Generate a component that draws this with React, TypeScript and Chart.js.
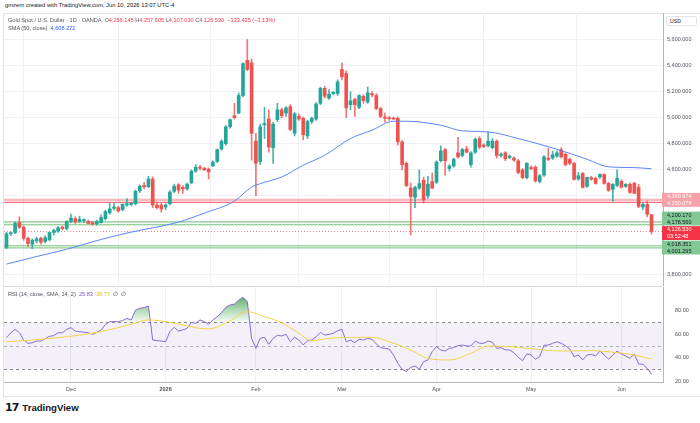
import React, { useEffect, useRef } from "react";
import { Chart, registerables } from "chart.js";
Chart.register(...registerables);

document.body.style.margin = "0";

const FONT = "'Liberation Sans', Arial, sans-serif";
const UP = "#26a69a";
const DOWN = "#ef5350";

// ---- candles (daily, Nov 10 2025 .. Jun 10 2026) ----
const opens = [
  4005,4110,4120,4195,4160,4075,4030,4055,4075,4050, 4065,4120,4130,4160,4150,4205,4225,4205,4210,4205,
  4195,4185,4195,4225,4270,4305,4310,4295,4330,4335, 4340,4440,4480,4470,4530,4330,4330,4315,4340,4435,
  4485,4465,4455,4500,4590,4620,4612,4605,4630,4665, 4760,4800,4930,5015,5035,5170,5440,5420,4820,4665,
  4945,4990,4770,4985,5060,5035,5085,4880,5010,4995, 4860,4970,4990,5110,5225,5150,5185,5185,5370,5340,
  5100,5140,5080,5165,5120,5185,5170,5070,5005,4998, 4995,4995,4815,4650,4460,4390,4460,4520,4400,4510,
  4505,4670,4755,4610,4630,4730,4710,4760,4640,4735, 4840,4790,4785,4770,4820,4710,4730,4695,4690,4670,
  4600,4540,4615,4620,4510,4560,4690,4690,4705,4755, 4720,4680,4650,4530,4573,4473,4540,4535,4545,4565,
  4496,4450,4481,4512,4473,4489,4496,4466,4315,4335, 4256.145,
];
const highs = [
  4120,4125,4200,4240,4170,4085,4070,4085,4085,4095, 4125,4145,4165,4170,4210,4260,4240,4245,4225,4215,
  4205,4215,4255,4290,4345,4345,4320,4340,4380,4350, 4445,4485,4505,4550,4545,4350,4345,4340,4440,4490,
  4495,4480,4500,4600,4640,4635,4620,4615,4670,4760, 4830,4940,4990,5110,5190,5420,5600,5450,4880,4950,
  5080,5060,4965,5110,5075,5085,5100,5040,5030,5005, 4980,5005,5115,5235,5240,5215,5200,5290,5420,5360,
  5200,5150,5175,5175,5235,5200,5185,5080,5035,5010, 5005,5005,4825,4660,4500,4475,4600,4545,4550,4575,
  4670,4785,4765,4640,4690,4850,4765,4780,4740,4845, 4855,4800,4890,4840,4830,4730,4740,4715,4700,4680,
  4610,4655,4630,4630,4565,4710,4765,4745,4745,4770, 4730,4690,4655,4580,4580,4545,4550,4545,4570,4570,
  4505,4495,4600,4525,4495,4500,4505,4490,4345,4360, 4257.605,
];
const lows = [
  3995,4095,4110,4150,4060,4010,3995,4040,4030,4040, 4055,4100,4120,4140,4140,4195,4190,4195,4195,4185,
  4175,4175,4190,4215,4260,4290,4275,4285,4320,4325, 4330,4425,4455,4465,4310,4300,4275,4295,4330,4425,
  4420,4420,4445,4495,4580,4600,4595,4530,4625,4655, 4750,4790,4920,4990,5030,5160,5360,4675,4400,4640,
  4840,4735,4650,4970,5000,5010,4900,4860,4980,4830, 4840,4955,4980,5100,5150,5140,5175,5170,5290,5000,
  5060,5010,5070,5110,5110,5160,5060,5000,4965,4980, 4985,4790,4600,4470,4100,4310,4450,4345,4380,4455,
  4495,4660,4560,4590,4620,4690,4700,4730,4620,4725, 4760,4770,4775,4760,4690,4700,4670,4685,4665,4570,
  4530,4530,4600,4505,4500,4550,4670,4680,4695,4690, 4630,4640,4520,4520,4460,4465,4520,4490,4535,4490,
  4435,4358,4470,4460,4465,4420,4415,4310,4295,4240, 4107.03,
];
const closes = [
  4110,4115,4190,4160,4075,4035,4060,4070,4045,4080, 4120,4135,4155,4150,4205,4230,4200,4220,4213,4190,
  4185,4205,4235,4280,4300,4315,4285,4335,4340,4345, 4435,4475,4470,4530,4330,4310,4300,4330,4430,4475,
  4445,4455,4490,4590,4620,4612,4600,4585,4660,4755, 4820,4930,4985,5000,5170,5415,5370,4880,4650,4930,
  4955,4775,4950,5060,5015,5075,4910,5030,4990,4870, 4970,4995,5105,5225,5165,5180,5195,5275,5315,5075,
  5130,5100,5170,5130,5190,5175,5070,5010,4995,4992, 4990,4815,4640,4480,4395,4465,4495,4370,4490,4460,
  4660,4745,4670,4630,4680,4700,4755,4735,4730,4835, 4775,4780,4820,4820,4710,4720,4685,4705,4675,4580,
  4540,4650,4610,4515,4555,4700,4680,4715,4730,4700, 4640,4650,4527,4555,4466,4543,4528,4496,4565,4496,
  4443,4489,4535,4466,4489,4427,4420,4320,4335,4259.965, 4126.53,
];

// ---- SMA(50) at candle indices ----
const smaIdx = [0,6,14,22,29,40,46,53,57,59,64,69,74,80,85,90,93,101,106,112,119,128,135,140,146,150];
const smaVal = [3877,3927,3991,4066,4122,4199,4268,4360,4468,4494,4545,4635,4712,4840,4904,4973,4973,4942,4899,4891,4840,4758,4681,4623,4617,4608.272];

// ---- RSI(14) per candle ----
const rsiVal = [
  57,61,64,61,55,52,52.5,54,54,56, 58,58.6,61,61,64,65.4,62.5,62,61.5,61,
  59.7,61.5,63.4,68,70.5,70.5,70.5,71.5,73.3,71.9, 80.4,81.9,82.5,83.8,54.9,54.3,54,53.4,62,65.7,
  62.5,63.5,64.8,70,69,72,70.5,68.3,72,74.7, 78,82.7,84.7,85.5,88.9,91.2,87.5,56.3,47.8,56.3,
  57.2,51.2,56.3,58.9,58.3,59.7,53.4,57.2,54.9,50.6, 54.3,54.9,57.7,61.4,59.1,59.7,60.6,62.8,64,53.4,
  54.9,52.6,55.5,54.9,56.3,55.5,51.5,48.4,47.8,47.2, 42.1,35.1,30,27.9,31.7,32.8,30,36.5,37.9,45,
  49.2,46.4,45.5,47.8,48.4,50,50.6,49.8,49.8,54, 52.1,52.1,54,52.9,47.8,48.4,46.4,46.4,44.1,40.2,
  37.3,43,42.1,38.5,40.7,50.4,50.6,52.1,53.4,52.1, 50,47.2,40.7,42.1,37.9,42.1,42.7,41.3,45.5,42.1,
  38.7,42.1,45.5,43,41.3,39.3,43,34.5,34.2,30.8,25.83,
];
// ---- RSI-based SMA(14) read at candle indices ----
const rsiMaIdx = [0,6,14,22,29,33,37,47,52,56,60,64,68,71,75,85,89,94,98,103,108,112,117,125,129,136,142,146,150];
const rsiMaVal = [53.4,54.9,57.7,62,68.3,72,70.5,64.3,71.3,79,74.7,69.6,60.6,54.3,56.3,57.2,53.4,46.4,39.3,37.9,43.6,49.8,49.2,46.4,45.5,45.8,44.1,42.1,38.77];

// ---- axes ----
const monthIdx = [15, 37, 58, 78, 100, 122, 143];
const monthLabels = ["Dec", "2026", "Feb", "Mar", "Apr", "May", "Jun"];
const monthBold = [false, true, false, false, false, false, false];
const priceTicks = [3800, 4000, 4200, 4400, 4600, 4800, 5000, 5200, 5400, 5600];
const rsiTicks = [20, 40, 60, 80];
const rsiLevels = [70, 50, 30];

// ---- horizontal levels ----
const resistance = [4369.674, 4350.078];
const supportHigh = [4200.17, 4178.56];
const supportLow = [4018.351, 4001.295];
const countdown = "03:52:48";

const X_MIN = -0.58;
const X_MAX = 152.67;

const fmt3 = (v: number) =>
  v.toLocaleString("en-US", { minimumFractionDigits: 3, maximumFractionDigits: 3 });

function zeroPad(s: any) {
  s.paddingTop = 0; s.paddingBottom = 0; s.paddingLeft = 0; s.paddingRight = 0;
}

function PriceChart() {
  const ref = useRef<HTMLCanvasElement>(null);
  useEffect(() => {
    const idx = closes.map((_, i) => i);
    const cols = idx.map((i) => (closes[i] >= opens[i] ? UP : DOWN));
    const wickCols = idx.map((i) => (closes[i] >= opens[i] ? "rgba(38,166,154,0.85)" : "rgba(239,83,80,0.8)"));
    const last = closes[closes.length - 1];

    const levelsPlugin = {
      id: "levels",
      beforeDatasetsDraw(chart: any) {
        const { ctx, chartArea: a, scales } = chart;
        const y = scales.y;
        ctx.save();
        ctx.beginPath();
        ctx.rect(a.left, a.top, a.width, a.height);
        ctx.clip();
        const hline = (py: number, color: string, w: number, dash: number[] = []) => {
          ctx.strokeStyle = color; ctx.lineWidth = w; ctx.setLineDash(dash);
          ctx.beginPath(); ctx.moveTo(a.left, py); ctx.lineTo(a.right, py); ctx.stroke();
        };
        let y1 = y.getPixelForValue(resistance[0]);
        let y2 = y.getPixelForValue(resistance[1]);
        ctx.fillStyle = "rgba(242,54,69,0.12)";
        ctx.fillRect(a.left, y1, a.width, y2 - y1);
        hline(y1, "rgba(242,54,69,0.35)", 2);
        hline(y2, "rgba(242,54,69,0.75)", 1);
        y1 = y.getPixelForValue(supportHigh[0]);
        y2 = y.getPixelForValue(supportHigh[1]);
        ctx.fillStyle = "rgba(76,175,80,0.06)";
        ctx.fillRect(a.left, y1, a.width, y2 - y1);
        hline(y1, "rgba(76,175,80,0.75)", 1);
        hline(y2, "rgba(76,175,80,0.75)", 1);
        y1 = y.getPixelForValue(supportLow[0]);
        y2 = y.getPixelForValue(supportLow[1]);
        ctx.fillStyle = "rgba(76,175,80,0.18)";
        ctx.fillRect(a.left, y1, a.width, y2 - y1);
        hline(y1, "rgba(76,175,80,0.6)", 1);
        hline(y2, "rgba(76,175,80,0.6)", 1);
        hline(y.getPixelForValue(last), "rgba(242,54,69,0.65)", 1, [1, 2]);
        ctx.restore();
      },
      afterDraw(chart: any) {
        const { ctx, chartArea: a, scales, width } = chart;
        const y = scales.y;
        const groups = [
          { lines: [fmt3(resistance[0]), fmt3(resistance[1])], anchor: resistance[0], bg: "#f5a3a9", fg: "#ffffff" },
          { lines: [fmt3(supportHigh[0]), fmt3(supportHigh[1])], anchor: supportHigh[0], bg: "#81c995", fg: "#131722" },
          { lines: [fmt3(last), countdown], anchor: last, bg: "#f23645", fg: "#ffffff" },
          { lines: [fmt3(supportLow[0]), fmt3(supportLow[1])], anchor: supportLow[0], bg: "#81c995", fg: "#131722" },
        ];
        const H = 14.5;
        const items = groups.map((g) => ({ g, c: y.getPixelForValue(g.anchor) })).sort((p, q) => p.c - q.c);
        const clusters: any[] = [];
        for (const it of items) {
          clusters.push({ items: [it], sum: it.c });
          while (clusters.length > 1) {
            const cur = clusters[clusters.length - 1];
            const prev = clusters[clusters.length - 2];
            const pTop = prev.sum / prev.items.length - (prev.items.length * H) / 2;
            const cTop = cur.sum / cur.items.length - (cur.items.length * H) / 2;
            if (pTop + prev.items.length * H > cTop) {
              prev.items.push(...cur.items);
              prev.sum += cur.sum;
              clusters.pop();
            } else break;
          }
        }
        ctx.save();
        ctx.font = `5.5px ${FONT}`;
        ctx.textBaseline = "middle";
        ctx.textAlign = "left";
        for (const cl of clusters) {
          const top = cl.sum / cl.items.length - (cl.items.length * H) / 2;
          cl.items.forEach((it: any, k: number) => {
            const bt = top + k * H;
            ctx.fillStyle = it.g.bg;
            ctx.fillRect(a.right - 1, bt + 0.3, width - a.right + 1, H - 0.6);
            ctx.fillStyle = it.g.fg;
            ctx.fillText(it.g.lines[0], a.right + 4, bt + H / 2 - 3.4);
            ctx.fillText(it.g.lines[1], a.right + 4, bt + H / 2 + 3.6);
          });
        }
        ctx.restore();
      },
    };

    const chart = new Chart(ref.current!, {
      type: "bar",
      data: {
        datasets: [
          {
            type: "line",
            label: "SMA",
            data: smaIdx.map((x, k) => ({ x, y: smaVal[k] })),
            borderColor: "#5a86f7",
            borderWidth: 1,
            pointRadius: 0,
            cubicInterpolationMode: "monotone",
            order: 0,
          } as any,
          {
            type: "bar",
            label: "wick",
            data: idx.map((i) => ({ x: i, y: [lows[i], highs[i]] })),
            backgroundColor: wickCols,
            barThickness: 1,
            grouped: false,
            order: 2,
          } as any,
          {
            type: "bar",
            label: "body",
            data: idx.map((i) => ({ x: i, y: [opens[i], closes[i]] })),
            backgroundColor: cols,
            barThickness: 3,
            minBarLength: 1,
            grouped: false,
            order: 1,
          } as any,
        ],
      },
      options: {
        animation: false,
        responsive: false,
        layout: { padding: 0, autoPadding: false } as any,
        plugins: { legend: { display: false }, tooltip: { enabled: false } },
        scales: {
          x: {
            type: "linear",
            min: X_MIN,
            max: X_MAX,
            offset: false,
            afterBuildTicks: (s: any) => { s.ticks = monthIdx.map((v) => ({ value: v })); },
            afterFit: (s: any) => { s.height = 0; zeroPad(s); },
            ticks: { display: false },
            grid: { color: "#eef0f6", drawTicks: false },
            border: { display: false },
          },
          y: {
            position: "right",
            min: 3709,
            max: 5803,
            afterBuildTicks: (s: any) => { s.ticks = priceTicks.map((v) => ({ value: v })); },
            afterFit: (s: any) => { s.width = 37; zeroPad(s); },
            ticks: {
              callback: (v: any) => fmt3(Number(v)),
              font: { family: FONT, size: 5.5 },
              color: "#50535e",
              padding: 4,
            },
            grid: { color: "#f0f2f7", drawTicks: false },
            border: { display: true, color: "#b2b5be" },
          },
        },
      } as any,
      plugins: [levelsPlugin],
    });
    return () => chart.destroy();
  }, []);
  return <canvas ref={ref} width={696} height={273} style={{ position: "absolute", left: 4, top: 13, width: 696, height: 273 }} />;
}

function RsiChart() {
  const ref = useRef<HTMLCanvasElement>(null);
  useEffect(() => {
    const bandPlugin = {
      id: "rsiBand",
      beforeDatasetsDraw(chart: any) {
        const { ctx, chartArea: a, scales } = chart;
        const y = scales.y;
        const yHi = y.getPixelForValue(rsiLevels[0]);
        const yLo = y.getPixelForValue(rsiLevels[2]);
        ctx.save();
        ctx.fillStyle = "rgba(126,87,194,0.09)";
        ctx.fillRect(a.left, yHi, a.width, yLo - yHi);
        rsiLevels.forEach((lv, k) => {
          const py = Math.round(y.getPixelForValue(lv)) + 0.5;
          ctx.strokeStyle = k === 1 ? "rgba(120,123,134,0.55)" : "#8a8d98";
          ctx.lineWidth = 1;
          ctx.setLineDash([3, 3]);
          ctx.beginPath(); ctx.moveTo(a.left, py); ctx.lineTo(a.right, py); ctx.stroke();
        });
        ctx.restore();
      },
    };
    const greenGrad = (c: any) => {
      const { chart } = c;
      const { ctx, chartArea, scales } = chart;
      if (!chartArea || !scales.y) return "rgba(76,175,80,0.3)";
      const g = ctx.createLinearGradient(0, scales.y.getPixelForValue(92), 0, scales.y.getPixelForValue(70));
      g.addColorStop(0, "rgba(56,150,70,0.8)");
      g.addColorStop(1, "rgba(76,175,80,0.05)");
      return g;
    };
    const pts = rsiVal.map((y, x) => ({ x, y }));
    const chart = new Chart(ref.current!, {
      type: "line",
      data: {
        datasets: [
          {
            label: "RSI",
            data: pts,
            borderColor: "#8a6bd1",
            borderWidth: 1,
            pointRadius: 0,
            fill: { target: { value: 70 }, below: "rgba(0,0,0,0)" },
            backgroundColor: greenGrad,
            order: 1,
          } as any,
          {
            label: "RSI low",
            data: pts,
            borderColor: "rgba(0,0,0,0)",
            borderWidth: 0,
            pointRadius: 0,
            fill: { target: { value: 30 }, above: "rgba(0,0,0,0)" },
            backgroundColor: "rgba(242,54,69,0.2)",
            order: 2,
          } as any,
          {
            label: "RSI MA",
            data: rsiMaIdx.map((x, k) => ({ x, y: rsiMaVal[k] })),
            borderColor: "#f3d34a",
            borderWidth: 1,
            pointRadius: 0,
            cubicInterpolationMode: "monotone",
            fill: false,
            order: 0,
          } as any,
        ],
      },
      options: {
        animation: false,
        responsive: false,
        layout: { padding: 0, autoPadding: false } as any,
        plugins: { legend: { display: false }, tooltip: { enabled: false } },
        scales: {
          x: {
            type: "linear",
            min: X_MIN,
            max: X_MAX,
            offset: false,
            afterBuildTicks: (s: any) => { s.ticks = monthIdx.map((v) => ({ value: v })); },
            afterFit: (s: any) => { s.height = 14; zeroPad(s); },
            ticks: {
              autoSkip: false,
              maxRotation: 0,
              callback: (_v: any, i: number) => monthLabels[i],
              font: (c: any) => ({ family: FONT, size: 5.5, weight: monthBold[c.index] ? "bold" : "normal" }),
              color: "#50535e",
              padding: 4,
            },
            grid: { color: "#eef0f6", drawTicks: false },
            border: { display: true, color: "#b2b5be" },
          },
          y: {
            position: "right",
            min: 19.15,
            max: 100,
            afterBuildTicks: (s: any) => { s.ticks = rsiTicks.map((v) => ({ value: v })); },
            afterFit: (s: any) => { s.width = 37; zeroPad(s); },
            ticks: {
              callback: (v: any) => Number(v).toFixed(2),
              font: { family: FONT, size: 5.5 },
              color: "#50535e",
              padding: 4,
            },
            grid: { display: false },
            border: { display: true, color: "#b2b5be" },
          },
        },
      } as any,
      plugins: [bandPlugin],
    });
    return () => chart.destroy();
  }, []);
  return <canvas ref={ref} width={696} height={109} style={{ position: "absolute", left: 4, top: 287, width: 696, height: 109 }} />;
}

export default function App() {
  const n = closes.length;
  const o = opens[n - 1], h = highs[n - 1], l = lows[n - 1], c = closes[n - 1];
  const chg = c - closes[n - 2];
  const pct = (chg / closes[n - 2]) * 100;
  const red = "#f23645";
  const gray = "#50535e";
  const small: React.CSSProperties = { position: "absolute", fontFamily: FONT, fontSize: 5.6, lineHeight: "7px", whiteSpace: "pre" };
  return (
    <div style={{ position: "relative", width: 700, height: 423, background: "#ffffff", overflow: "hidden", fontFamily: FONT }}>
      <div style={{ ...small, left: 5, top: 2, color: "#131722", fontSize: 5.8 }}>
        gmzern created with TradingView.com, Jun 10, 2026 13:07 UTC-4
      </div>
      <div style={{ position: "absolute", left: 3, top: 13, width: 697, height: 382, borderTop: "1px solid #e0e3eb", borderLeft: "1px solid #e0e3eb", borderBottom: "1px solid #e0e3eb" }} />
      <div style={{ position: "absolute", left: 3, top: 286, width: 660, height: 1, background: "#d6d9e0" }} />
      <PriceChart />
      <RsiChart />
      <div style={{ ...small, left: 8, top: 16.5, color: gray }}>
        {"Gold Spot / U.S. Dollar · 1D · OANDA  "}
        <span>O</span><span style={{ color: red }}>{fmt3(o)}</span>
        <span>{" H"}</span><span style={{ color: red }}>{fmt3(h)}</span>
        <span>{" L"}</span><span style={{ color: red }}>{fmt3(l)}</span>
        <span>{" C"}</span><span style={{ color: red }}>{fmt3(c)}</span>
        <span style={{ color: red }}>{"  " + (chg < 0 ? "−" : "+") + fmt3(Math.abs(chg)) + " (" + (pct < 0 ? "−" : "+") + Math.abs(pct).toFixed(2) + "%)"}</span>
      </div>
      <div style={{ ...small, left: 8, top: 24.5, color: gray }}>
        {"SMA (50, close)  "}
        <span style={{ color: "#2962ff" }}>{fmt3(smaVal[smaVal.length - 1])}</span>
      </div>
      <div style={{ position: "absolute", left: 666, top: 16, width: 26, height: 8, border: "1px solid #e0e3eb", borderRadius: 2, background: "#fff", fontFamily: FONT, fontSize: 5.2, lineHeight: "8px", color: "#131722", paddingLeft: 3, boxSizing: "content-box" }}>
        USD
      </div>
      <div style={{ ...small, left: 8, top: 291, color: gray }}>
        {"RSI (14, close, SMA, 14, 2)  "}
        <span style={{ color: "#7e57c2" }}>{rsiVal[rsiVal.length - 1].toFixed(2)}</span>
        {"  "}
        <span style={{ color: "#e8c21a" }}>{rsiMaVal[rsiMaVal.length - 1].toFixed(2)}</span>
        {"  ∅  ∅"}
      </div>
      <div style={{ position: "absolute", left: 5, top: 402, display: "flex", alignItems: "center", fontFamily: FONT, color: "#131722" }}>
        <span style={{ fontSize: 11, fontWeight: 900, letterSpacing: -1, lineHeight: "12px", fontFamily: "'DejaVu Sans', sans-serif" }}>17</span>
        <span style={{ fontSize: 9.6, fontWeight: 700, marginLeft: 4, lineHeight: "12px" }}>TradingView</span>
      </div>
    </div>
  );
}
